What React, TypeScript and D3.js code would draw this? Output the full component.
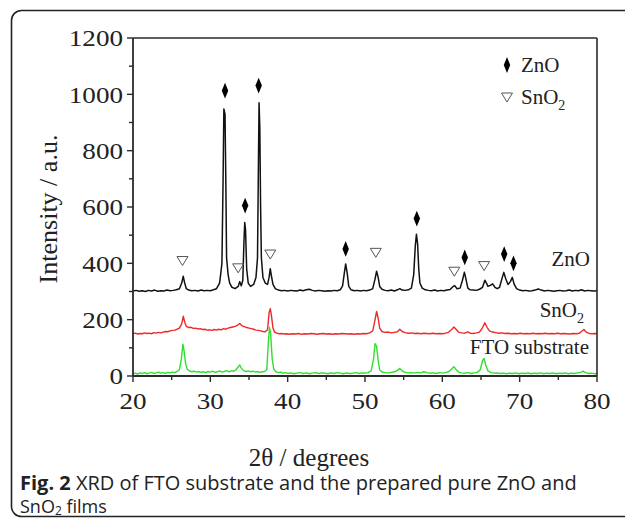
import React from "react";
import * as d3 from "d3";

// 2θ (degrees) vs. intensity (a.u.) for each film; the ZnO and SnO2 traces carry their own offsets
const znoPattern: [number, number][] = [
  [20.0, 302], [20.4, 304], [20.8, 301], [21.2, 303], [21.6, 300], [22.0, 304], [22.4, 302], [22.8, 305],
  [23.2, 301], [23.6, 303], [24.0, 302], [24.4, 305], [24.8, 303], [25.2, 304], [25.6, 306], [26.0, 310],
  [26.3, 330], [26.5, 354], [26.7, 328], [26.9, 310], [27.2, 305], [27.6, 303], [28.0, 304], [28.4, 302],
  [28.8, 305], [29.2, 303], [29.6, 304], [30.0, 303], [30.4, 306], [30.8, 310], [31.2, 330], [31.5, 400],
  [31.65, 700], [31.75, 948], [31.9, 930], [32.0, 700], [32.1, 420], [32.3, 360], [32.5, 330], [32.8, 315],
  [33.2, 310], [33.6, 318], [33.8, 335], [34.0, 320], [34.2, 340], [34.35, 480], [34.45, 545], [34.55, 520],
  [34.7, 380], [34.9, 330], [35.2, 318], [35.6, 325], [35.9, 350], [36.1, 420], [36.2, 700], [36.3, 970],
  [36.4, 880], [36.5, 600], [36.6, 420], [36.8, 350], [37.1, 330], [37.4, 325], [37.6, 350], [37.75, 381],
  [37.9, 355], [38.1, 325], [38.4, 310], [38.8, 305], [39.2, 303], [39.6, 304], [40.0, 302], [40.4, 304],
  [40.8, 303], [41.2, 302], [41.6, 305], [42.0, 303], [42.4, 306], [42.8, 308], [43.2, 304], [43.6, 302],
  [44.0, 304], [44.4, 303], [44.8, 301], [45.2, 303], [45.6, 302], [46.0, 304], [46.4, 303], [46.8, 306],
  [47.1, 320], [47.35, 370], [47.5, 398], [47.7, 365], [47.9, 318], [48.2, 306], [48.6, 303], [49.0, 304],
  [49.4, 302], [49.8, 304], [50.2, 303], [50.6, 305], [51.0, 310], [51.3, 345], [51.5, 372], [51.7, 350],
  [51.9, 318], [52.2, 308], [52.6, 304], [53.0, 303], [53.4, 305], [53.8, 302], [54.2, 306], [54.5, 310],
  [54.8, 305], [55.2, 304], [55.6, 306], [56.0, 312], [56.3, 360], [56.5, 460], [56.65, 503], [56.8, 470],
  [56.95, 380], [57.1, 330], [57.4, 312], [57.8, 306], [58.2, 304], [58.6, 303], [59.0, 305], [59.4, 302],
  [59.8, 304], [60.2, 303], [60.6, 305], [61.0, 307], [61.4, 318], [61.6, 321], [61.9, 310], [62.3, 312],
  [62.6, 340], [62.85, 368], [63.05, 345], [63.3, 312], [63.6, 306], [64.0, 305], [64.4, 304], [64.8, 308],
  [65.2, 315], [65.5, 340], [65.7, 330], [65.9, 318], [66.2, 322], [66.5, 327], [66.8, 315], [67.1, 310],
  [67.4, 315], [67.7, 345], [67.95, 368], [68.2, 345], [68.5, 325], [68.8, 335], [69.05, 350], [69.3, 325],
  [69.6, 310], [70.0, 305], [70.4, 303], [70.8, 304], [71.2, 302], [71.6, 303], [72.0, 305], [72.4, 309],
  [72.8, 305], [73.2, 302], [73.6, 304], [74.0, 303], [74.4, 301], [74.8, 303], [75.2, 304], [75.6, 302],
  [76.0, 303], [76.4, 305], [76.8, 302], [77.2, 304], [77.6, 303], [78.0, 306], [78.4, 302], [78.8, 304],
  [79.2, 303], [79.6, 302], [80.0, 303],
];

const sno2Pattern: [number, number][] = [
  [20.0, 150], [20.3, 152], [20.6, 149], [20.9, 151], [21.2, 150], [21.5, 153], [21.8, 151], [22.1, 152],
  [22.4, 150], [22.7, 154], [23.0, 152], [23.3, 155], [23.6, 153], [23.9, 156], [24.2, 158], [24.5, 157],
  [24.8, 160], [25.1, 162], [25.4, 163], [25.7, 166], [26.0, 170], [26.3, 185], [26.5, 212], [26.7, 190],
  [26.9, 176], [27.2, 172], [27.5, 173], [27.8, 169], [28.1, 170], [28.4, 167], [28.7, 168], [29.0, 165],
  [29.3, 166], [29.6, 163], [29.9, 164], [30.2, 162], [30.5, 165], [30.8, 163], [31.1, 166], [31.4, 164],
  [31.7, 168], [32.0, 166], [32.3, 170], [32.6, 172], [32.9, 174], [33.2, 176], [33.5, 180], [33.8, 186],
  [34.1, 178], [34.4, 175], [34.7, 172], [35.0, 170], [35.3, 168], [35.6, 166], [35.9, 163], [36.2, 162],
  [36.5, 160], [36.8, 158], [37.1, 157], [37.4, 165], [37.6, 225], [37.75, 239], [37.9, 215], [38.1, 170],
  [38.3, 156], [38.6, 152], [38.9, 150], [39.2, 151], [39.5, 149], [39.8, 150], [40.2, 148], [40.6, 150],
  [41.0, 149], [41.4, 151], [41.8, 148], [42.2, 150], [42.6, 149], [43.0, 151], [43.4, 150], [43.8, 148],
  [44.2, 150], [44.6, 151], [45.0, 149], [45.4, 150], [45.8, 148], [46.2, 150], [46.6, 149], [47.0, 151],
  [47.4, 150], [47.8, 149], [48.2, 150], [48.6, 148], [49.0, 150], [49.4, 149], [49.8, 151], [50.2, 150],
  [50.6, 153], [51.0, 160], [51.3, 200], [51.5, 229], [51.7, 205], [51.9, 170], [52.2, 158], [52.6, 155],
  [53.0, 156], [53.4, 153], [53.8, 155], [54.2, 157], [54.5, 166], [54.8, 158], [55.2, 154], [55.6, 152],
  [56.0, 153], [56.4, 151], [56.8, 152], [57.2, 150], [57.6, 152], [58.0, 151], [58.4, 150], [58.8, 152],
  [59.2, 150], [59.6, 151], [60.0, 150], [60.4, 152], [60.8, 155], [61.2, 165], [61.5, 174], [61.8, 165],
  [62.1, 156], [62.5, 153], [62.9, 152], [63.3, 157], [63.6, 152], [64.0, 151], [64.4, 153], [64.8, 156],
  [65.2, 172], [65.5, 189], [65.8, 172], [66.1, 160], [66.5, 156], [66.9, 154], [67.3, 152], [67.7, 153],
  [68.1, 151], [68.5, 152], [68.9, 150], [69.3, 151], [69.7, 150], [70.1, 152], [70.5, 150], [70.9, 151],
  [71.3, 150], [71.7, 152], [72.1, 150], [72.5, 151], [72.9, 150], [73.3, 152], [73.7, 150], [74.1, 151],
  [74.5, 150], [74.9, 152], [75.3, 150], [75.7, 151], [76.1, 150], [76.5, 149], [76.9, 151], [77.3, 150],
  [77.7, 152], [78.0, 158], [78.3, 165], [78.6, 156], [79.0, 151], [79.4, 150], [79.7, 151], [80.0, 150],
];

const ftoPattern: [number, number][] = [
  [20.0, 8], [20.3, 10], [20.6, 7], [20.9, 11], [21.2, 9], [21.5, 12], [21.8, 8], [22.1, 10],
  [22.4, 13], [22.7, 9], [23.0, 11], [23.3, 14], [23.6, 10], [23.9, 12], [24.2, 9], [24.5, 13],
  [24.8, 11], [25.1, 14], [25.4, 12], [25.7, 16], [26.0, 22], [26.25, 60], [26.45, 113], [26.6, 90],
  [26.8, 45], [27.0, 25], [27.3, 18], [27.6, 15], [27.9, 17], [28.2, 14], [28.5, 16], [28.8, 13],
  [29.1, 15], [29.4, 12], [29.7, 16], [30.0, 14], [30.3, 17], [30.6, 13], [30.9, 15], [31.2, 18],
  [31.5, 14], [31.8, 16], [32.1, 19], [32.4, 15], [32.7, 18], [33.0, 17], [33.3, 22], [33.6, 32],
  [33.8, 39], [34.0, 28], [34.3, 19], [34.6, 16], [34.9, 18], [35.2, 15], [35.5, 17], [35.8, 14],
  [36.1, 16], [36.4, 13], [36.7, 15], [37.0, 16], [37.3, 22], [37.5, 120], [37.65, 173], [37.8, 150],
  [38.0, 60], [38.2, 25], [38.5, 15], [38.8, 12], [39.1, 14], [39.4, 10], [39.7, 12], [40.0, 9],
  [40.4, 11], [40.8, 8], [41.2, 10], [41.6, 12], [42.0, 9], [42.4, 11], [42.8, 8], [43.2, 10],
  [43.6, 12], [44.0, 9], [44.4, 11], [44.8, 10], [45.2, 8], [45.6, 11], [46.0, 9], [46.4, 12],
  [46.8, 10], [47.2, 8], [47.6, 11], [48.0, 9], [48.4, 10], [48.8, 12], [49.2, 9], [49.6, 11],
  [50.0, 10], [50.4, 12], [50.8, 18], [51.1, 60], [51.3, 115], [51.5, 105], [51.7, 55], [51.9, 22],
  [52.2, 14], [52.6, 12], [53.0, 11], [53.4, 13], [53.8, 15], [54.2, 20], [54.5, 27], [54.8, 18],
  [55.2, 13], [55.6, 11], [56.0, 12], [56.4, 10], [56.8, 13], [57.2, 11], [57.6, 15], [58.0, 12],
  [58.4, 10], [58.8, 11], [59.2, 9], [59.6, 12], [60.0, 10], [60.4, 12], [60.8, 15], [61.2, 25],
  [61.5, 33], [61.8, 22], [62.1, 14], [62.5, 11], [62.9, 10], [63.3, 12], [63.7, 9], [64.1, 11],
  [64.5, 13], [64.9, 22], [65.2, 55], [65.4, 62], [65.6, 40], [65.9, 18], [66.3, 12], [66.7, 10],
  [67.1, 11], [67.5, 9], [67.9, 10], [68.3, 8], [68.7, 10], [69.1, 9], [69.5, 11], [69.9, 8],
  [70.3, 10], [70.7, 9], [71.1, 11], [71.5, 8], [71.9, 10], [72.3, 9], [72.7, 11], [73.1, 8],
  [73.5, 10], [73.9, 9], [74.3, 11], [74.7, 8], [75.1, 10], [75.5, 9], [75.9, 11], [76.3, 8],
  [76.7, 10], [77.1, 9], [77.5, 11], [77.9, 13], [78.2, 17], [78.5, 12], [78.9, 9], [79.3, 10],
  [79.7, 8], [80.0, 9],
];

// Phase markers placed above the indexed reflections
const znoMarks: [number, number][] = [
  [31.9, 1013], [36.25, 1031], [34.5, 605], [47.5, 451], [56.7, 559], [62.9, 421], [68.0, 433], [69.2, 400],
];
const sno2Marks: [number, number][] = [
  [26.4, 410], [33.6, 384], [37.75, 433], [51.4, 439], [61.55, 372], [65.4, 392],
];

const xTicks = [20, 30, 40, 50, 60, 70, 80];
const yTicks = [0, 200, 400, 600, 800, 1000, 1200];

const serif = "'Liberation Serif', 'Times New Roman', serif";
const sans = "'Open Sans', 'Noto Sans', sans-serif";
const axisColor = "#2a2a2a";

export default function App() {
  const width = 625;
  const height = 518;
  const left = 133;
  const right = 597;
  const top = 38;
  const bottom = 376;

  const x = d3.scaleLinear().domain([20, 80]).range([left, right]);
  const y = d3.scaleLinear().domain([0, 1200]).range([bottom, top]);

  const line = d3
    .line<[number, number]>()
    .x((d) => x(d[0]))
    .y((d) => y(d[1]));

  const xMinor = d3.range(20, 80.1, 5);
  const yMinor = d3.range(0, 1200.1, 100);

  const diamond = d3.symbol().type(d3.symbolDiamond).size(50)();
  const stretch = 1.13;

  return (
    <svg
      width={width}
      height={height}
      style={{ position: "absolute", left: 0, top: 0, background: "#fff" }}
    >
      {/* rounded frame of the figure panel */}
      <rect x={11.5} y={10.5} width={660} height={506} rx={10} fill="none" stroke="#222" strokeWidth={1.6} />

      {/* traces */}
      <path d={line(znoPattern) ?? ""} fill="none" stroke="#111" strokeWidth={1.5} strokeLinejoin="round" />
      <path d={line(sno2Pattern) ?? ""} fill="none" stroke="#ec2a2a" strokeWidth={1.4} strokeLinejoin="round" />
      <path d={line(ftoPattern) ?? ""} fill="none" stroke="#2ee02e" strokeWidth={1.4} strokeLinejoin="round" />

      {/* phase markers */}
      {znoMarks.map(([a, b], i) => (
        <path key={"z" + i} d={diamond ?? ""} transform={`translate(${x(a)},${y(b)}) scale(0.85,1.2)`} fill="#000" />
      ))}
      {sno2Marks.map(([a, b], i) => (
        <path
          key={"s" + i}
          d="M-5.5,-4 L5.5,-4 L0,5 Z"
          transform={`translate(${x(a)},${y(b)})`}
          fill="none"
          stroke="#555"
          strokeWidth={1}
        />
      ))}

      {/* plot frame */}
      <line x1={left} x2={right} y1={top} y2={top} stroke={axisColor} strokeWidth={1.6} />
      <line x1={right} x2={right} y1={top} y2={bottom} stroke={axisColor} strokeWidth={1.6} />
      <line x1={left} x2={right} y1={bottom} y2={bottom} stroke={axisColor} strokeWidth={1.8} />
      <line x1={left} x2={left} y1={top} y2={bottom} stroke={axisColor} strokeWidth={1.8} />

      {/* x ticks */}
      {xMinor.map((v) => (
        <line
          key={"xt" + v}
          x1={x(v)}
          x2={x(v)}
          y1={bottom}
          y2={bottom + (v % 10 === 0 ? 6 : 4)}
          stroke={axisColor}
          strokeWidth={1.4}
        />
      ))}
      {xTicks.map((v) => (
        <text
          key={"xl" + v}
          transform={`translate(${x(v)},${bottom + 33}) scale(${stretch},1)`}
          textAnchor="middle"
          fontFamily={serif}
          fontSize={24}
          fill="#222"
        >
          {v}
        </text>
      ))}

      {/* y ticks */}
      {yMinor.map((v) => (
        <line
          key={"yt" + v}
          x1={left - (v % 200 === 0 ? 6 : 4)}
          x2={left}
          y1={y(v)}
          y2={y(v)}
          stroke={axisColor}
          strokeWidth={1.4}
        />
      ))}
      {yTicks.map((v) => (
        <text
          key={"yl" + v}
          transform={`translate(${left - 10},${y(v)}) scale(${stretch},1)`}
          dy="0.35em"
          textAnchor="end"
          fontFamily={serif}
          fontSize={24}
          fill="#222"
        >
          {v}
        </text>
      ))}

      {/* axis titles */}
      <text
        transform={`translate(57,${(top + bottom) / 2 + 2}) rotate(-90)`}
        textAnchor="middle"
        fontFamily={serif}
        fontSize={26}
        fill="#222"
      >
        Intensity / a.u.
      </text>
      <text x={309} y={466} textAnchor="middle" fontFamily={serif} fontSize={25} fill="#222">
        2θ / degrees
      </text>

      {/* legend */}
      <path d={diamond ?? ""} transform="translate(507,65) scale(0.85,1.2)" fill="#000" />
      <text x={521} y={72} fontFamily={serif} fontSize={21} fill="#222">
        ZnO
      </text>
      <path d="M-5.5,-4 L5.5,-4 L0,5 Z" transform="translate(507,97)" fill="none" stroke="#555" strokeWidth={1} />
      <text x={521} y={104} fontFamily={serif} fontSize={21} fill="#222">
        SnO
        <tspan fontSize={14} dy={6}>
          2
        </tspan>
      </text>

      {/* trace labels */}
      <text x={590} y={266} textAnchor="end" fontFamily={serif} fontSize={21} fill="#222">
        ZnO
      </text>
      <text x={584} y={317} textAnchor="end" fontFamily={serif} fontSize={21} fill="#222">
        SnO
        <tspan fontSize={14} dy={6}>
          2
        </tspan>
      </text>
      <text x={589} y={354} textAnchor="end" fontFamily={serif} fontSize={21} fill="#222">
        FTO substrate
      </text>

      {/* caption */}
      <text x={20} y={490} fontFamily={sans} fontSize={20} fill="#222">
        <tspan fontWeight="bold">Fig. 2</tspan> XRD of FTO substrate and the prepared pure ZnO and
      </text>
      <text x={20} y={513} fontFamily={sans} fontSize={18} fill="#222">
        SnO
        <tspan fontSize={12} dy={2}>
          2
        </tspan>
        <tspan dy={-2}> films</tspan>
      </text>
    </svg>
  );
}
